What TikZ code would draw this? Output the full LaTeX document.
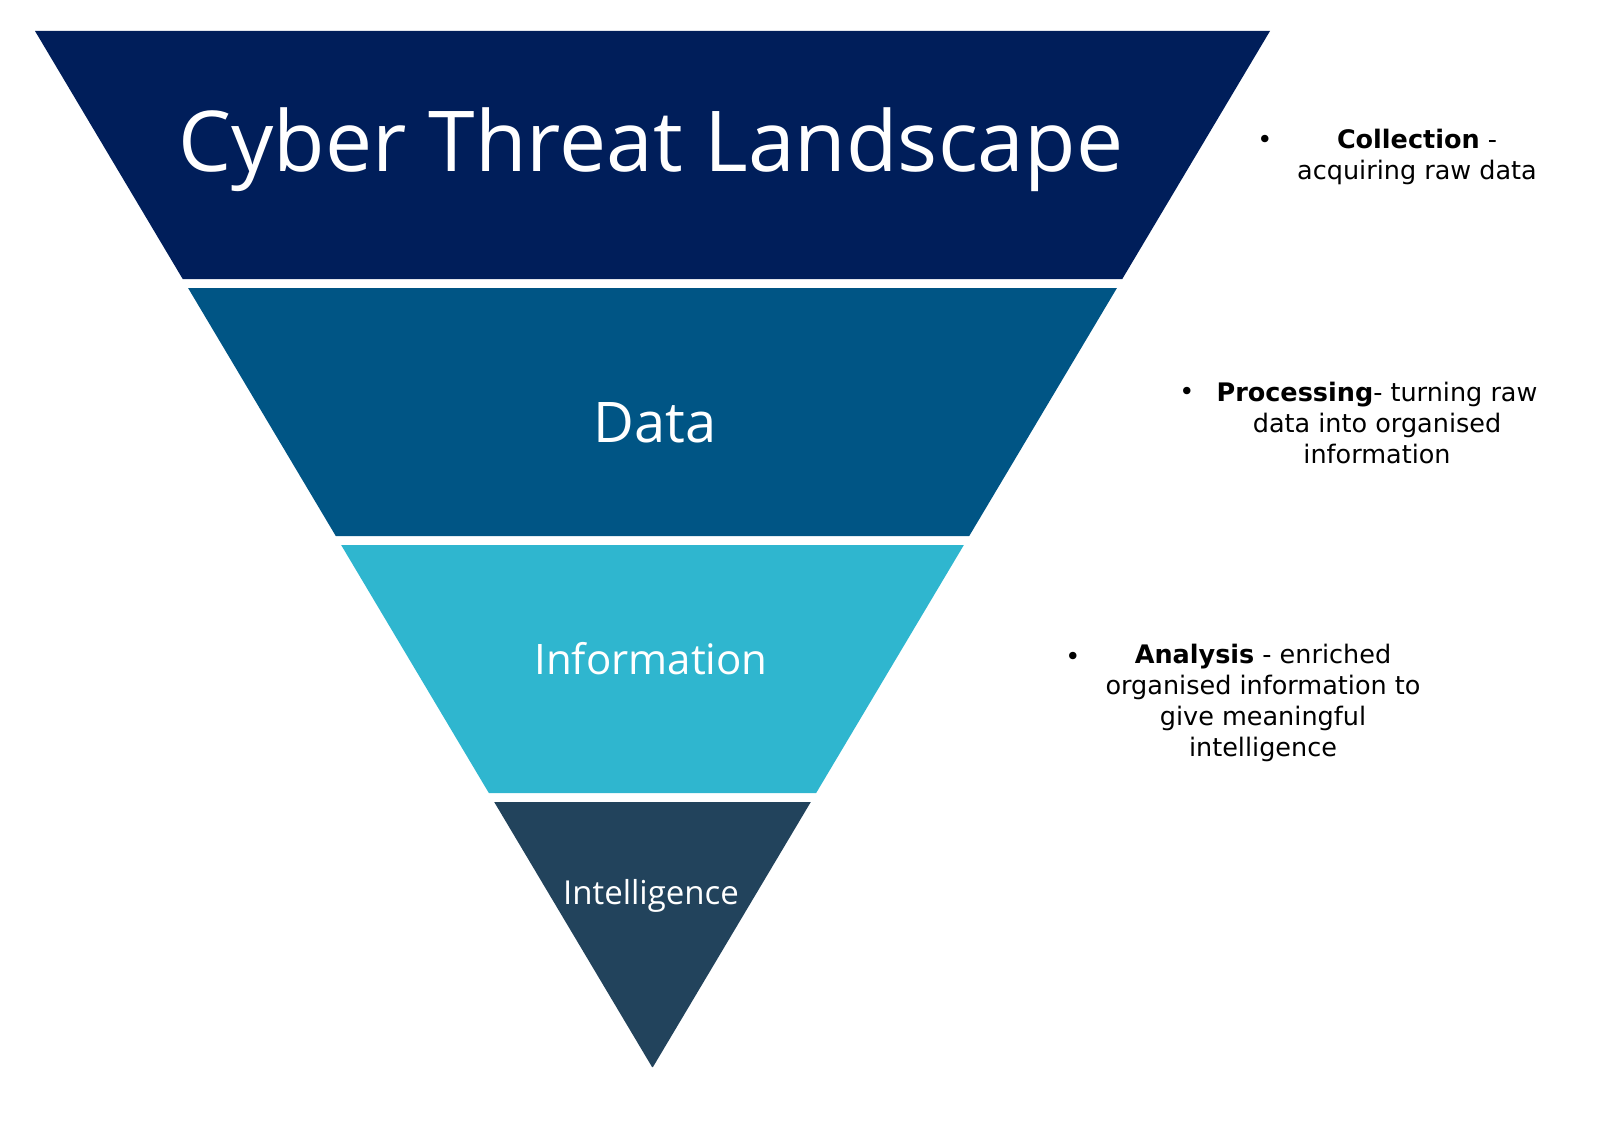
\documentclass[tikz,border=0pt]{standalone}
\usepackage{fontspec}
\setmainfont{DejaVu Sans}
\newfontfamily\bandfont{Open Sans}
\definecolor{bandA}{HTML}{001E5A}
\definecolor{bandB}{HTML}{005585}
\definecolor{bandC}{HTML}{2FB6CF}
\definecolor{bandD}{HTML}{22435C}

\begin{document}
\begin{tikzpicture}[x=1pt,y=-1pt]
\tikzset{band label/.style={text=white,inner sep=0pt}}
\tikzset{note/.style={align=center,inner sep=0pt,font=\fontsize{25.5}{31}\selectfont}}
\useasboundingbox (0,0) rectangle (1600,1123);
% funnel bands
\foreach \t/\b/\c in {31/279/bandA,288/536/bandB,545/793/bandC,802/1067/bandD}
  \fill[\c] ({35+0.5956*(\t-31)},\t) -- ({1270-0.5956*(\t-31)},\t)
    -- ({1270-0.5956*(\b-31)},\b) -- ({35+0.5956*(\b-31)},\b) -- cycle;
\node[band label,font=\bandfont\fontsize{84}{98}\selectfont] (title) at (651,150) {Cyber Threat Landscape};
\node[band label,font=\bandfont\fontsize{56}{66}\selectfont] (data) at (655,423) {Data};
\node[band label,font=\bandfont\fontsize{42}{50}\selectfont] (info) at (651,659) {Information};
\node[band label,font=\bandfont\fontsize{33}{40}\selectfont] (intel) at (651,896) {Intelligence};
% notes
\node[note] (collect) at (1417,157) {\textbf{Collection} -\\acquiring raw data};
\node[note] (process) at (1377,423) {\textbf{Processing}- turning raw\\data into organised\\information};
\node[note] (analyse) at (1263,703) {\textbf{Analysis} - enriched\\organised information to\\give meaningful\\intelligence};
\node[note] (dotA) at (1265,142) {•};
\node[note] (dotB) at (1187,394) {•};
\node[note] (dotC) at (1073,659) {•};
\end{tikzpicture}
\end{document}
